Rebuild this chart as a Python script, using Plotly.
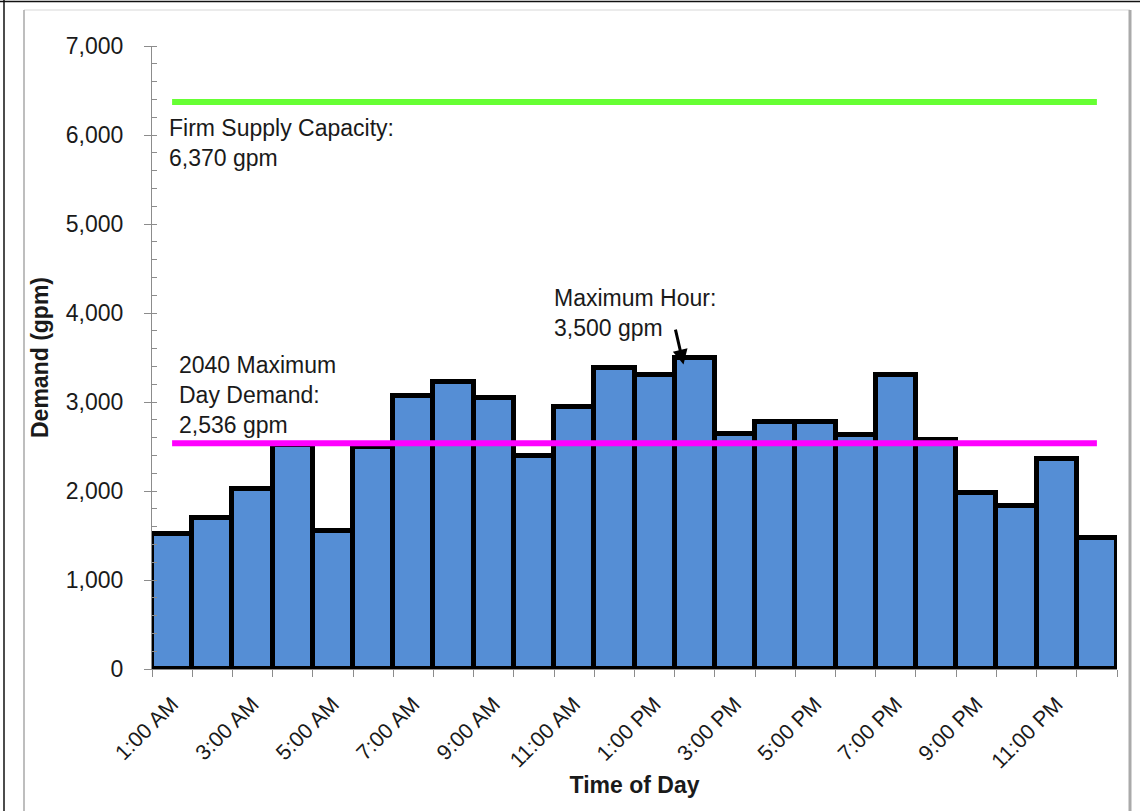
import plotly.graph_objects as go

# Hourly demand on the 2040 maximum day (gpm)
hours = [
    "1:00 AM", "2:00 AM", "3:00 AM", "4:00 AM", "5:00 AM", "6:00 AM",
    "7:00 AM", "8:00 AM", "9:00 AM", "10:00 AM", "11:00 AM", "12:00 PM",
    "1:00 PM", "2:00 PM", "3:00 PM", "4:00 PM", "5:00 PM", "6:00 PM",
    "7:00 PM", "8:00 PM", "9:00 PM", "10:00 PM", "11:00 PM", "12:00 AM",
]
demand = [
    1520, 1700, 2020, 2520, 1550, 2500,
    3070, 3220, 3045, 2390, 2940, 3380,
    3300, 3500, 2640, 2780, 2770, 2630,
    3300, 2570, 1980, 1830, 2360, 1470,
]
firm_supply_capacity = 6370
max_day_demand = 2536
max_hour = 3500
max_hour_label = "2:00 PM"

# Every other hour is labelled on the axis
label_hours = hours[0::2]

x_pos = list(range(1, len(hours) + 1))
label_pos = x_pos[0::2]
peak_x = x_pos[hours.index(max_hour_label)]

FONT = "Liberation Sans, Arial, sans-serif"
TEXT = "#1a1a1a"

fig = go.Figure()

fig.add_trace(go.Bar(
    x=x_pos, y=demand, width=1,
    marker=dict(color="#558ED5", line=dict(color="black", width=5)),
    hovertext=hours, name="Demand",
))
fig.add_trace(go.Scatter(
    x=x_pos, y=[firm_supply_capacity] * len(x_pos), mode="lines",
    line=dict(color="#66FF33", width=6), name="Firm Supply Capacity",
))
fig.add_trace(go.Scatter(
    x=x_pos, y=[max_day_demand] * len(x_pos), mode="lines",
    line=dict(color="#FF00FF", width=6), name="2040 Maximum Day Demand",
))

# plot area geometry in pixels (used for the page frame lines)
W, H = 1140, 811
L, R, T, B = 152, 23, 46, 142
pw, ph = W - L - R, H - T - B


def px_x(p):
    return (p - L) / pw


def px_y(p):
    return (H - B - p) / ph


frame = [
    # outer dark frame
    dict(x0=px_x(0), x1=px_x(W), y0=px_y(1.5), y1=px_y(1.5), color="#111111", width=1.5),
    dict(x0=px_x(4), x1=px_x(4), y0=px_y(0), y1=px_y(H), color="#111111", width=1.5),
    # chart area border
    dict(x0=px_x(24), x1=px_x(1130), y0=px_y(10), y1=px_y(10), color="#e4e4e4", width=1.5),
    dict(x0=px_x(24), x1=px_x(24), y0=px_y(10), y1=px_y(H), color="#a8a8a8", width=1.5),
    dict(x0=px_x(1130), x1=px_x(1130), y0=px_y(10), y1=px_y(H), color="#aaaaaa", width=3),
]
shapes = [
    dict(type="line", xref="paper", yref="paper", x0=f["x0"], x1=f["x1"],
         y0=f["y0"], y1=f["y1"], line=dict(color=f["color"], width=f["width"]),
         layer="above")
    for f in frame
]

ANN_FONT = dict(size=23, color=TEXT, family=FONT)
annotations = [
    dict(x=0.88, y=firm_supply_capacity, xref="x", yref="y",
         text=f"Firm Supply Capacity:<br>{firm_supply_capacity:,} gpm",
         xanchor="left", yanchor="top", yshift=-11, align="left",
         showarrow=False, font=ANN_FONT),
    dict(x=1.13, y=max_day_demand, xref="x", yref="y",
         text=f"2040 Maximum<br>Day Demand:<br>{max_day_demand:,} gpm",
         xanchor="left", yanchor="bottom", yshift=3, align="left",
         showarrow=False, font=ANN_FONT),
    dict(x=10.45, y=max_hour, xref="x", yref="y",
         text=f"Maximum Hour:<br>{max_hour:,} gpm",
         xanchor="left", yanchor="bottom", yshift=15, align="left",
         showarrow=False, font=ANN_FONT),
    dict(x=peak_x - 0.28, y=max_hour - 80, xref="x", yref="y",
         ax=peak_x - 0.49, ay=max_hour + 330, axref="x", ayref="y",
         text="", showarrow=True, arrowhead=2, arrowsize=1, arrowwidth=3,
         arrowcolor="black"),
]

fig.update_layout(
    width=W, height=H,
    margin=dict(l=L, r=R, t=T, b=B, autoexpand=False),
    paper_bgcolor="white", plot_bgcolor="white",
    showlegend=False, bargap=0,
    font=dict(family=FONT, color=TEXT, size=22),
    shapes=shapes, annotations=annotations,
    xaxis=dict(
        range=[0.5, len(hours) + 0.5], tickmode="array",
        tickvals=label_pos, ticktext=label_hours, tickangle=-45,
        ticks="", ticklabelstandoff=13, showgrid=False, zeroline=False,
        showline=True, linecolor="#8c8c8c", linewidth=1.2,
        tickfont=dict(size=21.5, color=TEXT, family=FONT),
        minor=dict(tick0=0.5, dtick=1, ticks="outside", ticklen=7,
                   tickcolor="#8c8c8c", tickwidth=1.2, showgrid=False),
        title=dict(text="<b>Time of Day</b>", standoff=3,
                   font=dict(size=23, color=TEXT, family=FONT)),
    ),
    yaxis=dict(
        range=[0, 7000], tickmode="linear", tick0=0, dtick=1000,
        tickformat=",", ticks="outside", ticklen=7, tickcolor="#8c8c8c",
        tickwidth=1.2, ticklabelstandoff=16, showgrid=False, zeroline=False,
        showline=True, linecolor="#8c8c8c", linewidth=1.2,
        tickfont=dict(size=23, color=TEXT, family=FONT),
        minor=dict(dtick=200, ticks="inside", ticklen=5, tickcolor="#8c8c8c",
                   tickwidth=1.2, showgrid=False),
        title=dict(text="<b>Demand (gpm)</b>", standoff=10,
                   font=dict(size=23, color=TEXT, family=FONT)),
    ),
)

fig.write_html("out.html")
